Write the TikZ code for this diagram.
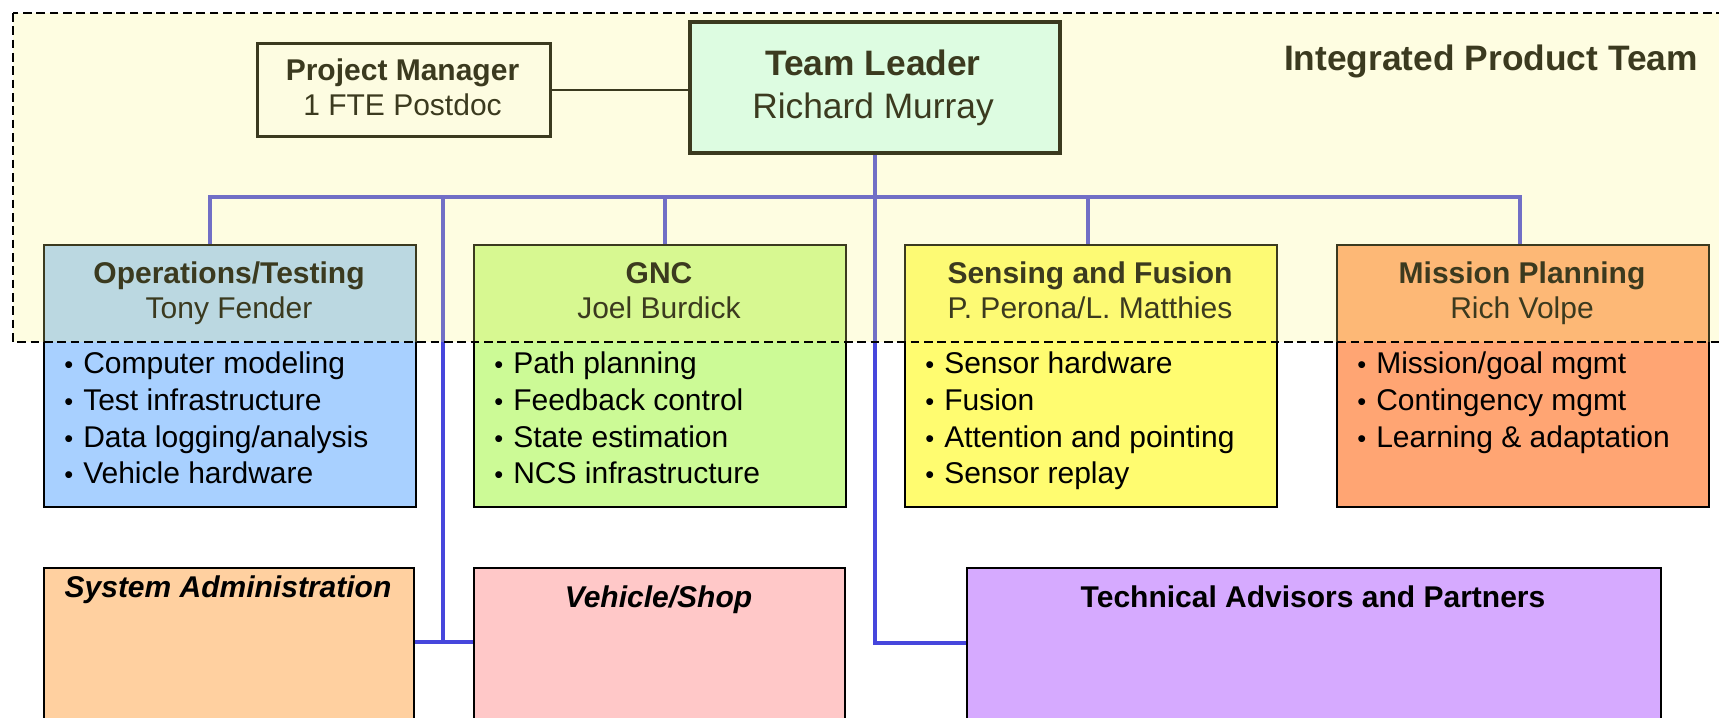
\documentclass[tikz,border=0pt]{standalone}
\usepackage{fontspec}
\setmainfont{Liberation Sans}

\definecolor{opsBlue}{RGB}{168,208,255}
\definecolor{gncGreen}{RGB}{204,250,150}
\definecolor{senYellow}{RGB}{255,252,112}
\definecolor{misOrange}{RGB}{255,165,115}
\definecolor{saPeach}{RGB}{255,208,160}
\definecolor{vsPink}{RGB}{255,200,200}
\definecolor{taLilac}{RGB}{214,170,255}
\definecolor{tlMint}{RGB}{212,255,255}
\definecolor{iptCream}{RGB}{250,245,130}
\definecolor{busBlue}{RGB}{70,70,220}

\newcommand{\itemdot}{\makebox[14.25pt][l]{\fontsize{19}{19}\selectfont\textbullet}}

\begin{document}
\begin{tikzpicture}[x=0.75pt,y=0.75pt,yscale=-1,xscale=1,
  box/.style={draw=black, line width=1.2pt, inner sep=0pt, anchor=north west},
  topbox/.style={box, minimum width=279pt, minimum height=196.5pt},
  lowbox/.style={box, minimum height=150pt},
  bus/.style={draw=busBlue, line width=3pt},
  ttl/.style={anchor=base, inner sep=0pt, font=\fontsize{22.5}{27}\selectfont\bfseries},
  who/.style={anchor=base, inner sep=0pt, font=\fontsize{22.5}{27}\selectfont},
  item/.style={anchor=base west, inner sep=0pt, font=\fontsize{22.5}{27}\selectfont},
  big/.style={anchor=base, inner sep=0pt, font=\fontsize{26.5}{32}\selectfont}]
\useasboundingbox (0,0) rectangle (1719,717);
\clip (0,0) rectangle (1719,717);

%Shape: Rectangle [ops]
\node (ops) [topbox, fill=opsBlue] at (43,244) {};
%Shape: Rectangle [gnc]
\node (gnc) [topbox, fill=gncGreen] at (473,244) {};
%Shape: Rectangle [sen]
\node (sen) [topbox, fill=senYellow] at (904,244) {};
%Shape: Rectangle [mis]
\node (mis) [topbox, fill=misOrange] at (1336,244) {};
%Shape: Rectangle [sa]
\node (sa) [lowbox, fill=saPeach, minimum width=277.5pt] at (43,567) {};
%Shape: Rectangle [vs]
\node (vs) [lowbox, fill=vsPink, minimum width=278.25pt] at (473,567) {};
%Shape: Rectangle [ta]
\node (ta) [lowbox, fill=taLilac, minimum width=520.5pt] at (966,567) {};
%Shape: Rectangle [tl]
\node (tl) [box, fill=tlMint, line width=3pt, minimum width=277.5pt, minimum height=98.25pt] at (688,20) {};
%Shape: Rectangle [pm]
\node (pm) [box, fill=white, line width=2.2pt, minimum width=219.75pt, minimum height=69.75pt] at (256,42) {};

%Straight Lines [pm - tl]
\draw [line width=1.5pt] (pm.east) -- (tl.west |- pm.east) ;
%Straight Lines [bus]
\coordinate (busW) at (210,197) ;
\coordinate (busE) at (1520,197) ;
\coordinate (gncJ) at (665,197) ;
\coordinate (senJ) at (1088,197) ;
\coordinate (shopJ) at (443,642) ;
\coordinate (taIn) at (966,643) ;
\draw [bus] (busW |- ops.north) -- (busW) -- (busE) -- (busE |- mis.north) ;
\draw [bus] (gncJ) -- (gncJ |- gnc.north) ;
\draw [bus] (senJ) -- (senJ |- sen.north) ;
\draw [bus] (tl.south) |- (ta.west |- taIn) ;
\draw [bus] (shopJ |- busW) -- (shopJ) ;
\draw [bus] (sa.east |- shopJ) -- (vs.west |- shopJ) ;

% Text Node
\node (pmT) [ttl] at (402.5,80) {Project Manager};
\node (pmN) [who] at (402.5,115) {1 FTE Postdoc};
% Text Node
\node (tlT) [big, font=\fontsize{26.5}{32}\selectfont\bfseries] at (873,75) {Team Leader};
\node (tlN) [big] at (873,118) {Richard Murray};
% Text Node
\node (ipt) [big, anchor=base east, font=\fontsize{26.5}{32}\selectfont\bfseries] at (1698,70) {Integrated Product Team};

% Text Node
\node (opsT) [ttl] at (229,283) {Operations/Testing};
\node (opsN) [who] at (229,318) {Tony Fender};
\node (ops1) [item] at (64,373) {\itemdot Computer modeling};
\node (ops2) [item] at (64,410) {\itemdot Test infrastructure};
\node (ops3) [item] at (64,447) {\itemdot Data logging/analysis};
\node (ops4) [item] at (64,483) {\itemdot Vehicle hardware};
% Text Node
\node (gncT) [ttl] at (659,283) {GNC};
\node (gncN) [who] at (659,318) {Joel Burdick};
\node (gnc1) [item] at (494,373) {\itemdot Path planning};
\node (gnc2) [item] at (494,410) {\itemdot Feedback control};
\node (gnc3) [item] at (494,447) {\itemdot State estimation};
\node (gnc4) [item] at (494,483) {\itemdot NCS infrastructure};
% Text Node
\node (senT) [ttl] at (1090,283) {Sensing and Fusion};
\node (senN) [who] at (1090,318) {P. Perona/L. Matthies};
\node (sen1) [item] at (925,373) {\itemdot Sensor hardware};
\node (sen2) [item] at (925,410) {\itemdot Fusion};
\node (sen3) [item] at (925,447) {\itemdot Attention and pointing};
\node (sen4) [item] at (925,483) {\itemdot Sensor replay};
% Text Node
\node (misT) [ttl] at (1522,283) {Mission Planning};
\node (misN) [who] at (1522,318) {Rich Volpe};
\node (mis1) [item] at (1357,373) {\itemdot Mission/goal mgmt};
\node (mis2) [item] at (1357,410) {\itemdot Contingency mgmt};
\node (mis3) [item] at (1357,447) {\itemdot Learning \& adaptation};
% Text Node
\node (saT) [ttl, font=\fontsize{22.5}{27}\selectfont\bfseries\itshape] at (228,597) {System Administration};
\node (vsT) [ttl, font=\fontsize{22.5}{27}\selectfont\bfseries\itshape] at (658.5,607) {Vehicle/Shop};
\node (taT) [ttl] at (1313,607) {Technical Advisors and Partners};

%Shape: Rectangle [integrated product team]
\draw [line width=1.6pt, dash pattern=on 6.5pt off 3.5pt, fill=iptCream, fill opacity=0.24] (13,13) rectangle (1760,342) ;

\end{tikzpicture}
\end{document}
